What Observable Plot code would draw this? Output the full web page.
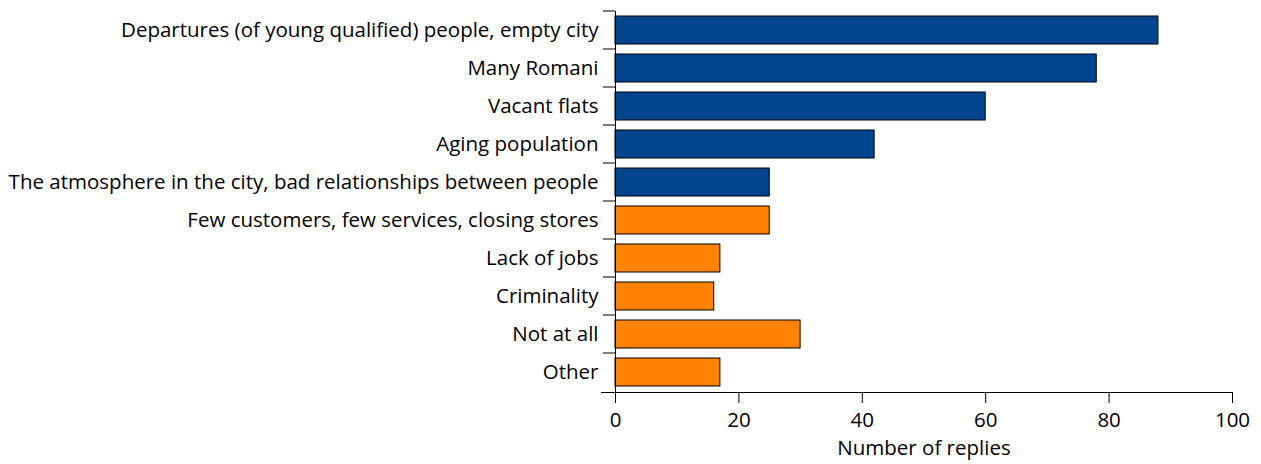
<!DOCTYPE html>
<html>
<head>
<meta charset="utf-8">
<script src="https://cdn.jsdelivr.net/npm/d3@7"></script>
<script src="https://cdn.jsdelivr.net/npm/@observablehq/plot@0.6"></script>
<style>
  html, body { margin: 0; padding: 0; background: #fff; }
  #chart svg { display: block; }
</style>
</head>
<body>
<div id="chart"></div>
<script>
const categories = [
  "Departures (of young qualified) people, empty city",
  "Many Romani",
  "Vacant flats",
  "Aging population",
  "The atmosphere in the city, bad relationships between people",
  "Few customers, few services, closing stores",
  "Lack of jobs",
  "Criminality",
  "Not at all",
  "Other"
];
const values = [88, 78, 60, 42, 25, 25, 17, 16, 30, 17];
const groups = ["A", "A", "A", "A", "A", "B", "B", "B", "B", "B"];
const xTicks = [0, 20, 40, 60, 80, 100];
const xLabel = "Number of replies";

const data = categories.map((c, i) => ({category: c, value: values[i], group: groups[i]}));

const padInner = 0.26;

function yBoundaryTicks(index, scales, values, dims) {
  const y = scales.y, x = scales.x;
  const step = y.step(), bw = y.bandwidth();
  const off = (step - bw) / 2;
  const ys = categories.map(c => y(c) - off);
  const g = d3.create("svg:g").attr("stroke", "#000").attr("stroke-width", 1);
  const x0 = x(0);
  ys.forEach(v => {
    g.append("line").attr("x1", x0 - 12).attr("x2", x0).attr("y1", v).attr("y2", v);
  });
  return g.node();
}

const chart = Plot.plot({
  width: 1261,
  height: 464,
  marginLeft: 615,
  marginRight: 29,
  marginTop: 11,
  marginBottom: 72,
  style: {fontFamily: "'Open Sans', Lato, sans-serif", fontSize: "20.5px", color: "#000", background: "#fff"},
  x: {domain: [0, 100]},
  y: {domain: categories, paddingInner: padInner, paddingOuter: padInner / 2},
  color: {domain: ["A", "B"], range: ["#00468E", "#FF8200"]},
  marks: [
    Plot.barX(data, {x: "value", y: "category", fill: "group", stroke: "#000", strokeWidth: 1}),
    Plot.frame({anchor: "left", stroke: "#000"}),
    Plot.frame({anchor: "bottom", stroke: "#000", insetLeft: -14}),
    yBoundaryTicks,
    Plot.axisX({ticks: xTicks, tickSize: 11, tickPadding: 9, tickFormat: d => String(d), label: xLabel, labelAnchor: "center", labelArrow: "none", labelOffset: 62, fontSize: 20.5}),
    Plot.axisY({tickSize: 0, tickPadding: 17, label: null, fontSize: 20.5})
  ]
});
document.getElementById("chart").appendChild(chart);
</script>
</body>
</html>
